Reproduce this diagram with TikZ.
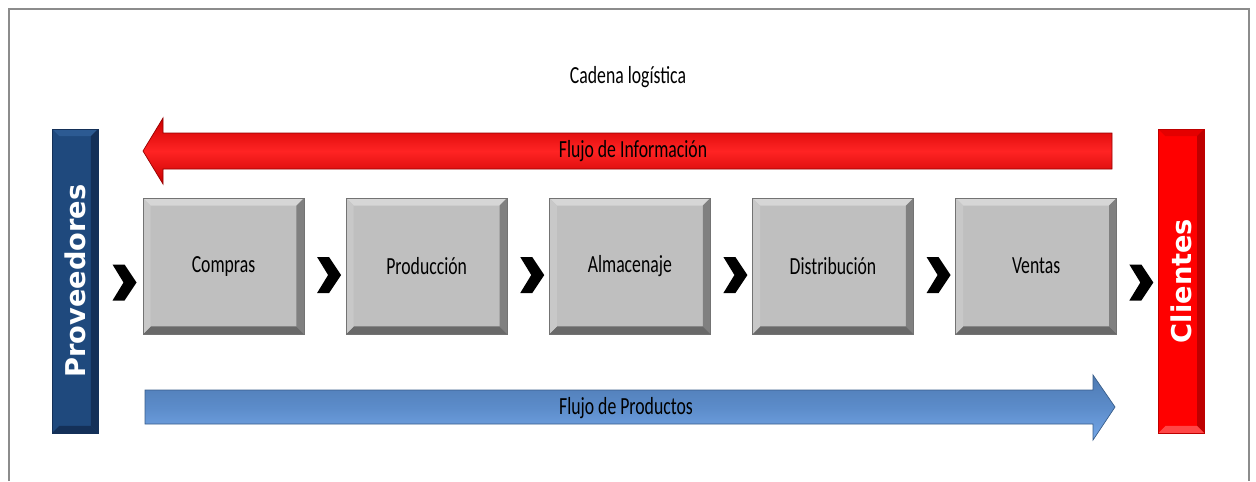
\documentclass[tikz,border=0pt]{standalone}
\usepackage{fontspec}
\usepackage{graphicx}
\usetikzlibrary{positioning,calc}
\newfontfamily\cadfont[FakeStretch=0.72]{Carlito}
\newfontfamily\barfont{DejaVu Sans}
\definecolor{boxgray}{RGB}{191,191,191}
\definecolor{boxlight}{RGB}{214,214,214}
\definecolor{boxside}{RGB}{200,200,200}
\definecolor{boxdark}{RGB}{128,128,128}
\definecolor{boxdarker}{RGB}{105,105,105}
\definecolor{provblue}{RGB}{31,73,125}
\definecolor{provlight}{RGB}{44,90,146}
\definecolor{provdark}{RGB}{20,48,88}
\definecolor{clired}{RGB}{255,0,0}
\definecolor{clitop}{RGB}{228,0,0}
\definecolor{clilight}{RGB}{255,70,70}
\definecolor{clidark}{RGB}{190,0,0}
\definecolor{frame}{RGB}{140,140,140}
\tikzset{
  bevel/.style n args={5}{path picture={
    \coordinate (nw) at (path picture bounding box.north west);
    \coordinate (ne) at (path picture bounding box.north east);
    \coordinate (sw) at (path picture bounding box.south west);
    \coordinate (se) at (path picture bounding box.south east);
    \fill[#1] (nw) -- (ne) -- ([shift={(-#5,-#5)}]ne) -- ([shift={(#5,-#5)}]nw) -- cycle;
    \fill[#2] (ne) -- (se) -- ([shift={(-#5,#5)}]se) -- ([shift={(-#5,-#5)}]ne) -- cycle;
    \fill[#3] (se) -- (sw) -- ([shift={(#5,#5)}]sw) -- ([shift={(-#5,#5)}]se) -- cycle;
    \fill[#4] (sw) -- (nw) -- ([shift={(#5,-#5)}]nw) -- ([shift={(#5,#5)}]sw) -- cycle;
  }},
  lbl/.style={font=\cadfont\fontsize{14}{16}\selectfont, inner sep=1pt},
  stage/.style={lbl, draw=black!55, fill=boxgray, minimum width=3.22cm, minimum height=2.72cm,
    bevel={boxlight}{boxdark}{boxdarker}{boxside}{0.15cm}},
  sidebar/.style={minimum width=0.92cm, minimum height=6.08cm, inner sep=0pt, text=white,
    font=\barfont\bfseries\fontsize{15.5}{18}\selectfont},
  chev/.pic={\fill[black] (-12,-18) -- (0,-18) -- (12,0) -- (0,18) -- (-12,18) -- (-1,0) -- cycle;},
  infoarrow/.style={draw={rgb,255:red,150;green,0;blue,0}, top color={rgb,255:red,205;green,0;blue,0},
    bottom color={rgb,255:red,200;green,0;blue,0}, middle color={rgb,255:red,255;green,35;blue,35}},
  prodarrow/.style={draw={rgb,255:red,56;green,93;blue,138}, top color={rgb,255:red,78;green,122;blue,178},
    bottom color={rgb,255:red,118;green,168;blue,232}, middle color={rgb,255:red,92;green,140;blue,202}},
}
\begin{document}
\begin{tikzpicture}[x=0.02cm,y=-0.02cm]
\useasboundingbox (0,0) rectangle (1256,481);
\draw[frame, line width=1.2pt] (9,481) -- (9,9) -- (1249,9) -- (1249,481);

\node[lbl] (title) at (628,77) {Cadena logística};

\shadedraw[infoarrow] (1112,133) -- (163,133) -- (163,118) -- (143,151) -- (163,184) -- (163,169) -- (1112,169) -- cycle;
\node[lbl] (info) at (633,151) {Flujo de Información};

\shadedraw[prodarrow] (145,390) -- (1093,390) -- (1093,375) -- (1115,407) -- (1093,440) -- (1093,424) -- (145,424) -- cycle;
\node[lbl] (prod) at (626,408) {Flujo de Productos};

\node[sidebar, fill=provblue, draw=provdark, bevel={provlight}{provdark}{provdark}{provblue}{0.14cm}] (prov) at (75,281) {\rotatebox{90}{Proveedores}};
\node[sidebar, fill=clired, draw=clidark, bevel={clitop}{clidark}{clilight}{clired}{0.14cm}] (cli) at (1181,281) {\rotatebox{90}{Clientes}};

\node[stage] (compras) at (223.5,266) {Compras};
\node[stage, right=0.83cm of compras] (produccion) {Producción};
\node[stage, right=0.83cm of produccion] (almacen) {Almacenaje};
\node[stage, right=0.83cm of almacen] (distrib) {Distribución};
\node[stage, right=0.83cm of distrib] (ventas) {Ventas};

\foreach \a/\b in {prov/compras,compras/produccion,produccion/almacen,almacen/distrib,distrib/ventas,ventas/cli}
  \pic at ($(\a.east)!0.5!(\b.west)+(4,9)$) {chev};

\end{tikzpicture}
\end{document}
